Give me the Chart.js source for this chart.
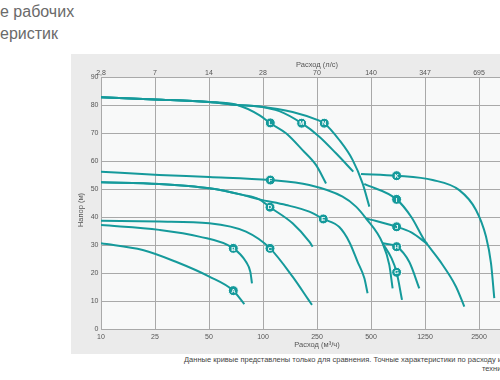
<!DOCTYPE html>
<html><head><meta charset="utf-8">
<script src="https://cdn.jsdelivr.net/npm/chart.js@4/dist/chart.umd.min.js"></script>
<style>
html,body{margin:0;padding:0;width:500px;height:380px;overflow:hidden;background:#fff;font-family:"Liberation Sans",Arial,sans-serif;}
.t{position:absolute;left:0;font-size:16px;line-height:18px;color:#6a6a6a;white-space:nowrap;}
#t1{top:3px}#t2{top:25px}
#panel{position:absolute;left:71px;top:54px;width:480px;height:300px;background:#ebebeb;}
.cap{position:absolute;font-size:7.5px;line-height:9px;color:#444;white-space:nowrap;}
#cap1{left:184px;top:355px}#cap2{left:482px;top:364px}
</style></head>
<body>
<div class="t" id="t1">е рабочих</div>
<div class="t" id="t2">еристик</div>
<div id="panel"><canvas id="c" width="480" height="300"></canvas></div>
<div class="cap" id="cap1">Данные кривые представлены только для сравнения. Точные характеристики по расходу и на</div>
<div class="cap" id="cap2">техни</div>
<script>
// Axis tick labels
const flowTicksM3h = [10, 25, 50, 100, 250, 500, 1250, 2500, 5000];
const bottomLabels = ['10', '25', '50', '100', '250', '500', '1250', '2500', ''];
const topLabels = ['2,8', '7', '14', '28', '70', '140', '347', '695', ''];
const headTicks = [0, 10, 20, 30, 40, 50, 60, 70, 80, 90];

// Pump curves: flow (m³/h) and head (m)
const qA = [10, 20.3, 32.7, 50.2, 68.3, 78.7];
const hA = [30.6, 28.2, 24.0, 18.7, 13.7, 8.9];
const qB = [10, 26.4, 44.1, 68.3, 80.4, 85.0, 86.8];
const hB = [37.1, 35.4, 33.0, 28.8, 24.0, 20.4, 16.3];
const qC = [10, 26.4, 50.2, 80.4, 112.6, 165.2, 216.6, 229.6];
const hC = [38.7, 38.4, 37.75, 34.75, 28.8, 18.7, 10.4, 8.6];
const qD = [10, 26.4, 50.2, 77.0, 95.3, 112.6, 165.2, 219.3, 232.1];
const hD = [52.4, 51.8, 50.25, 47.9, 46.3, 43.5, 37.75, 31.2, 29.4];
const qE = [10, 26.4, 50.2, 77.0, 95.3, 147.8, 219.3, 271.0, 332.8, 378.4, 421, 458.8, 478.6];
const hE = [52.4, 51.8, 50.25, 47.9, 46.3, 44.3, 41.9, 39.3, 36.4, 31.1, 24.0, 18.2, 12.75];
const qF = [10, 26.4, 50.2, 113.2, 219.3, 347.2, 412.4, 468.8, 608.9, 682, 721.6];
const hF = [56.2, 55.0, 54.3, 53.2, 51.4, 47.25, 43.7, 39.5, 30.6, 22.9, 14.5];
const qG = [608.9, 706, 772.2, 846];
const hG = [30.6, 25.4, 20.25, 10.4];
const qH = [608.9, 772.2, 958, 1134];
const hH = [30.6, 29.4, 23.9, 14.5];
const qI = [458.8, 772.2, 990.8, 1235, 1502, 1861, 2070];
const hI = [51.8, 46.3, 40.0, 31.8, 24.6, 15.1, 8.0];
const qJ = [468.8, 772.2, 990.8, 1288];
const hJ = [39.5, 36.5, 34.5, 30.4];
const qK = [439.8, 772.2, 1379, 1941, 2405, 2735, 2916, 3042];
const hK = [55.4, 54.75, 53.2, 49.6, 42.5, 33.0, 23.5, 11.0];
const qL = [10, 25, 50, 71.9, 95.3, 113.2, 147.8, 195.7, 245.6, 280.7];
const hL = [82.75, 82.0, 81.1, 80.0, 76.4, 73.5, 69.9, 63.9, 58.6, 52.0];
const qM = [10, 25, 50, 71.9, 95.3, 131.9, 192.6, 257.6, 319.1, 398.3];
const hM = [82.75, 82.0, 81.1, 80.0, 79.5, 77.8, 73.5, 68.7, 62.75, 56.2];
const qN = [10, 25, 50, 71.9, 95.3, 165.2, 257.6, 274.5, 332.8, 394.7, 448.8, 489.4];
const hN = [82.75, 82.0, 81.1, 80.0, 79.5, 77.5, 74.4, 73.5, 67.5, 60.4, 52.0, 43.7];

// Curve label markers
const markerLetters = ['A','B','C','D','E','F','G','H','I','J','K','L','M','N'];
const markerQ = [68.3, 68.3, 112.6, 112.6, 271.0, 113.2, 772.2, 772.2, 772.2, 772.2, 772.2, 113.2, 192.6, 274.5];
const markerH = [13.7, 28.8, 28.8, 43.5, 39.3, 53.2, 20.25, 29.4, 46.3, 36.5, 54.75, 73.6, 73.5, 73.5];

// flow axis: equally spaced ticks, log-interpolated between them
function flowPos(q) {
  const t = flowTicksM3h;
  for (let i = 0; i < t.length - 1; i++) {
    if (q <= t[i + 1]) return i + Math.log(q / t[i]) / Math.log(t[i + 1] / t[i]);
  }
  return t.length - 1;
}

const TEAL = '#159a9b';
const curves = [[qA,hA],[qB,hB],[qC,hC],[qD,hD],[qE,hE],[qF,hF],[qG,hG],[qH,hH],[qI,hI],[qJ,hJ],[qK,hK],[qL,hL],[qM,hM],[qN,hN]];
const datasets = curves.map(([q, h]) => ({
  data: q.map((v, i) => ({x: flowPos(v), y: h[i]})),
  showLine: true, borderColor: TEAL, borderWidth: 2, pointRadius: 0,
  cubicInterpolationMode: 'monotone', fill: false, xAxisID: 'x', yAxisID: 'y'
}));
datasets.push({
  data: markerQ.map((v, i) => ({x: flowPos(v), y: markerH[i]})),
  showLine: false, pointRadius: 5, pointBackgroundColor: TEAL,
  pointBorderColor: '#ffffff', pointBorderWidth: 1, xAxisID: 'x', yAxisID: 'y'
});

const FONT = {family: '"Liberation Sans", Arial, sans-serif', size: 7};
const GRID = '#a9a9a9';

const plugin = {
  id: 'deco',
  beforeDraw(chart) {
    const {ctx, chartArea: a} = chart;
    ctx.save();
    ctx.fillStyle = '#f8f9f9';
    ctx.fillRect(a.left, a.top, a.right - a.left, a.bottom - a.top);
    ctx.restore();
  },
  afterDraw(chart) {
    const {ctx, chartArea: a} = chart;
    const meta = chart.getDatasetMeta(chart.data.datasets.length - 1);
    ctx.save();
    ctx.fillStyle = '#ffffff';
    ctx.font = 'bold 6px "Liberation Sans", Arial, sans-serif';
    ctx.textAlign = 'center';
    ctx.textBaseline = 'middle';
    meta.data.forEach((p, i) => ctx.fillText(markerLetters[i], p.x, p.y + 0.5));
    // vertical axis title
    ctx.fillStyle = '#555';
    ctx.font = '7.5px "Liberation Sans", Arial, sans-serif';
    ctx.translate(9.7, (a.top + a.bottom) / 2 + 7);
    ctx.rotate(-Math.PI / 2);
    ctx.fillText('Напор (м)', 0, 0);
    ctx.restore();
  }
};

new Chart(document.getElementById('c'), {
  type: 'scatter',
  data: {datasets},
  plugins: [plugin],
  options: {
    responsive: false, animation: false,
    layout: {padding: {left: 0, top: 0, bottom: 0, right: 18}},
    plugins: {legend: {display: false}, tooltip: {enabled: false}},
    scales: {
      x: {
        type: 'linear', position: 'bottom', min: 0, max: 8,
        afterFit: s => { s.height = 25; },
        afterBuildTicks: s => { s.ticks = bottomLabels.map((_, i) => ({value: i})); },
        ticks: {callback: v => bottomLabels[v], font: FONT, color: '#555', padding: 3.5, maxRotation: 0, autoSkip: false},
        grid: {color: GRID, lineWidth: 1, drawTicks: false},
        border: {display: false},
        title: {display: true, text: 'Расход (м³/ч)', font: {family: FONT.family, size: 7.5}, color: '#555', padding: {top: 0, bottom: 4.5}}
      },
      x2: {
        type: 'linear', position: 'top', min: 0, max: 8,
        afterFit: s => { s.height = 23; },
        afterBuildTicks: s => { s.ticks = topLabels.map((_, i) => ({value: i})); },
        ticks: {callback: v => topLabels[v], font: FONT, color: '#555', padding: 0, maxRotation: 0, autoSkip: false},
        grid: {display: false, drawTicks: false},
        border: {display: false},
        title: {display: true, text: 'Расход (л/с)', font: {family: FONT.family, size: 7.5}, color: '#555', padding: {top: 6.5, bottom: 0}}
      },
      y: {
        type: 'linear', position: 'left', min: 0, max: 90,
        afterFit: s => { s.width = 30; },
        afterBuildTicks: s => { s.ticks = headTicks.map(v => ({value: v})); },
        ticks: {font: FONT, color: '#555', padding: 2.5},
        grid: {color: GRID, lineWidth: 1, drawTicks: false},
        border: {display: false}
      }
    }
  }
});
</script>
</body></html>
